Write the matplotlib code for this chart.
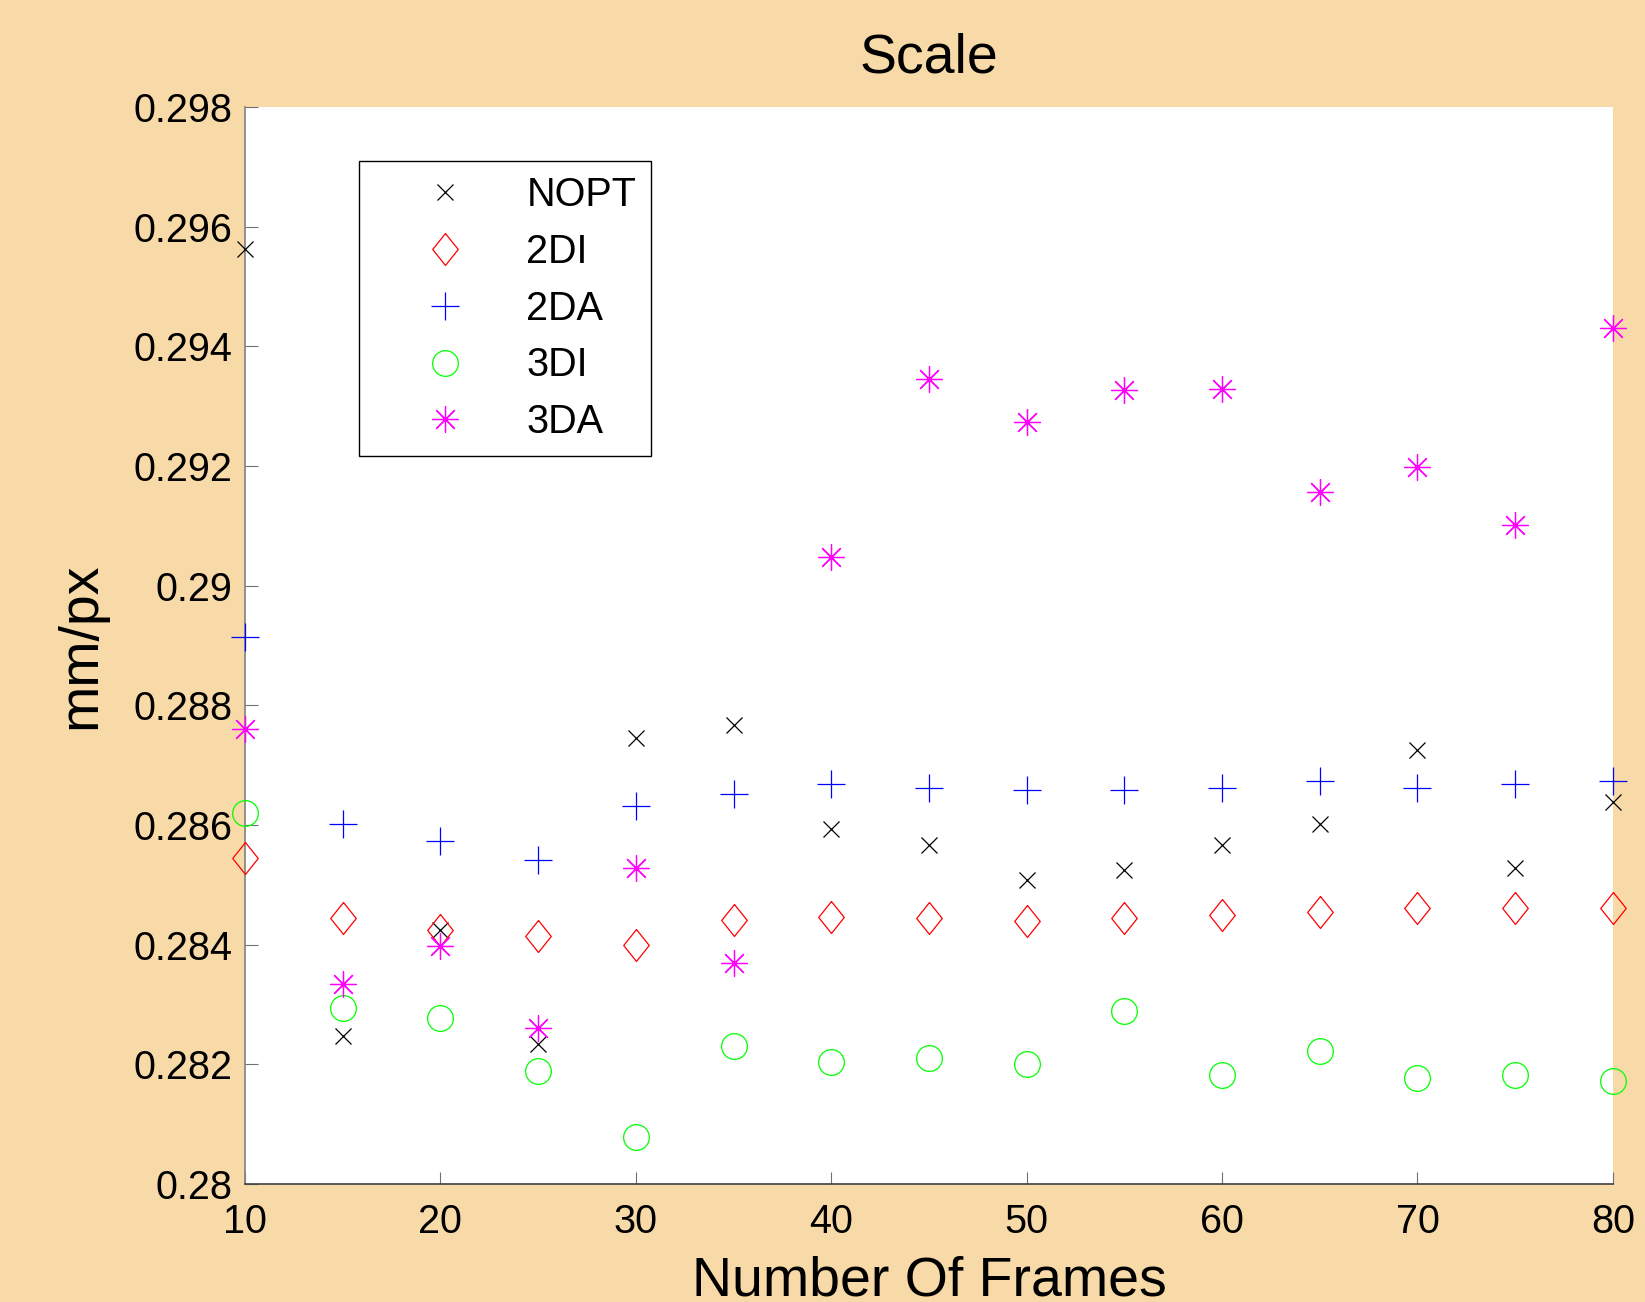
import numpy as np
import matplotlib
matplotlib.use("Agg")
import matplotlib.pyplot as plt
from matplotlib.ticker import FixedLocator, FuncFormatter

plt.rcParams['font.family'] = ['Liberation Sans', 'DejaVu Sans']

frames = [10, 15, 20, 25, 30, 35, 40, 45, 50, 55, 60, 65, 70, 75, 80]

nopt = [0.29563, 0.28247, 0.28424, 0.28234, 0.28746, 0.28767, 0.28594, 0.28567,
        0.28508, 0.28525, 0.28567, 0.28602, 0.28725, 0.28529, 0.28638]
di2 = [0.28545, 0.28445, 0.28424, 0.28415, 0.28399, 0.28441, 0.28447, 0.28445,
       0.28439, 0.28445, 0.28450, 0.28455, 0.28462, 0.28462, 0.28462]
da2 = [0.28915, 0.28602, 0.28574, 0.28541, 0.28632, 0.28652, 0.28669, 0.28662,
       0.28659, 0.28659, 0.28662, 0.28673, 0.28662, 0.28669, 0.28673]
di3 = [0.28620, 0.28294, 0.28278, 0.28189, 0.28078, 0.28231, 0.28204, 0.28210,
       0.28201, 0.28289, 0.28183, 0.28222, 0.28178, 0.28183, 0.28173]
da3 = [0.28760, 0.28334, 0.28397, 0.28261, 0.28529, 0.28369, 0.29048, 0.29346,
       0.29274, 0.29327, 0.29329, 0.29157, 0.29199, 0.29102, 0.29430]

bg = '#F8DAA8'
diamond = [(0, 1), (0.8, 0), (0, -1), (-0.8, 0), (0, 1)]

fig = plt.figure(figsize=(16.45, 13.02), dpi=100, facecolor=bg)
ax = fig.add_axes([0.1489, 0.0906, 0.8316, 0.8272])
ax.set_facecolor('white')

series = [
    (nopt, 'NOPT', 'x', 'black', 11),
    (di2, '2DI', diamond, '#FF0000', 23),
    (da2, '2DA', '+', '#0000FF', 20),
    (di3, '3DI', 'o', '#00FF00', 18.5),
    (da3, '3DA', (8, 2, 0), '#FF00FF', 19),
]
for vals, name, mk, col, ms in series:
    ax.plot(frames, vals, linestyle='none', marker=mk, markersize=ms,
            markerfacecolor='none', markeredgecolor=col, markeredgewidth=0.9,
            label=name, clip_on=False, zorder=3)

ax.set_xlim(10, 80)
ax.set_ylim(0.28, 0.298)
ax.xaxis.set_major_locator(FixedLocator(np.arange(10, 81, 10)))
ax.yaxis.set_major_locator(FixedLocator(np.arange(0.28, 0.2981, 0.002)))
ax.yaxis.set_major_formatter(FuncFormatter(lambda v, p: '%g' % round(v, 3)))

ax.tick_params(direction='in', length=9, width=0.8, color='#707070',
               labelsize=28.5, top=False, right=False)
ax.tick_params(axis='x', pad=14)
ax.tick_params(axis='y', pad=9)

for s in ['top', 'right']:
    ax.spines[s].set_visible(False)
ax.spines['left'].set_color('#808080')
ax.spines['bottom'].set_color('#404040')
ax.spines['left'].set_linewidth(1.2)
ax.spines['bottom'].set_linewidth(1.2)

ax.set_title('Scale', fontsize=40, pad=25)
ax.set_xlabel('Number Of Frames', fontsize=40, labelpad=10)
ax.set_ylabel('mm/px', fontsize=40, labelpad=19)

leg = ax.legend(loc='upper left', bbox_to_anchor=(0.0833, 0.9499), borderaxespad=0,
                fontsize=28.5, frameon=True, fancybox=False, edgecolor='black',
                framealpha=1, borderpad=0.38, handlelength=3.6, handletextpad=0.25,
                labelspacing=0.475, numpoints=1)
leg.get_frame().set_linewidth(1.0)

fig.savefig('out.png', dpi=100, facecolor=bg)
